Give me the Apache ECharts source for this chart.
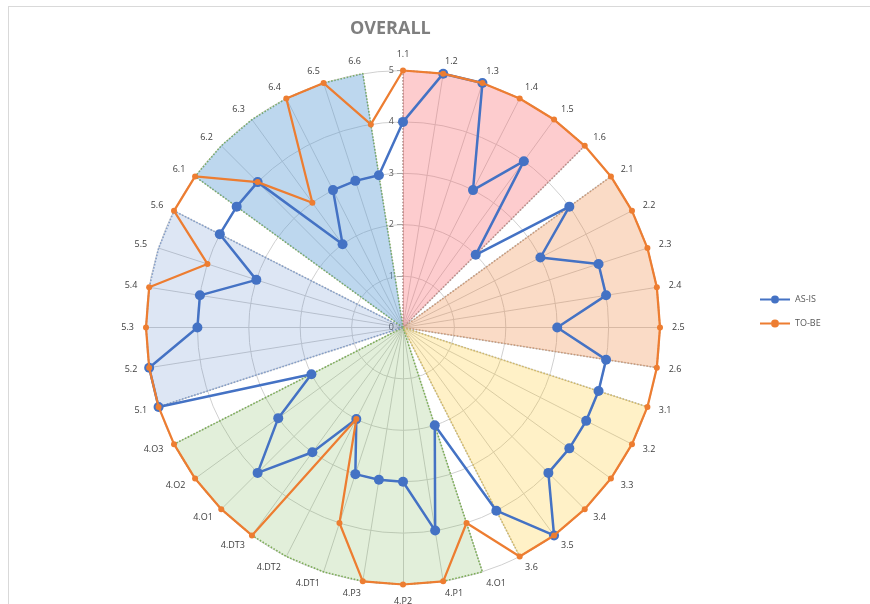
<!DOCTYPE html>
<html>
<head>
<meta charset="utf-8">
<title>OVERALL</title>
<script src="https://cdn.jsdelivr.net/npm/echarts@6/dist/echarts.min.js"></script>
<style>
  html, body { margin: 0; padding: 0; background: #ffffff; }
  #frame { position: absolute; left: 8px; top: 6px; right: 0; bottom: 0;
           border-left: 1px solid #d9d9d9; border-top: 1px solid #d9d9d9; }
  #chart { position: absolute; left: 0; top: 0; width: 870px; height: 604px; }
</style>
</head>
<body>
<div id="frame"></div>
<div id="chart"></div>
<script>
// Assessment items, listed clockwise from the top
const categories = [
  '1.1', '1.2', '1.3', '1.4', '1.5', '1.6',
  '2.1', '2.2', '2.3', '2.4', '2.5', '2.6',
  '3.1', '3.2', '3.3', '3.4', '3.5', '3.6',
  '4.O1', '4.P1', '4.P2', '4.P3', '4.DT1', '4.DT2', '4.DT3', '4.O1', '4.O2', '4.O3',
  '5.1', '5.2', '5.3', '5.4', '5.5', '5.6',
  '6.1', '6.2', '6.3', '6.4', '6.5', '6.6'
];

// Current maturity scores
const asIs = [
  4, 5, 5, 3, 4, 2,
  4, 3, 4, 4, 3, 4,
  4, 4, 4, 4, 5, 4,
  2, 4, 3, 3, 3, 2, 3, 4, 3, 2,
  5, 5, 4, 4, 3, 4,
  4, 4, 2, 3, 3, 3
];

// Target maturity scores
const toBe = [
  5, 5, 5, 5, 5, 5,
  5, 5, 5, 5, 5, 5,
  5, 5, 5, 5, 5, 5,
  4, 5, 5, 5, 4, 2, 5, 5, 5, 5,
  5, 5, 5, 5, 4, 5,
  5, 4, 3, 5, 5, 4
];

// Domain groups (first digit of the item code) and their sector styles
const groups = ['1', '2', '3', '4', '5', '6'];
const groupFill = [
  'rgba(248,100,105,0.33)',
  'rgba(237,125,49,0.28)',
  'rgba(255,192,0,0.22)',
  'rgba(112,173,71,0.2)',
  'rgba(68,114,196,0.18)',
  'rgba(91,155,213,0.4)'
];
const groupBorder = ['#b09a94', '#c0a08a', '#c9b87a', '#7fae5a', '#8ea4c8', '#7fae5a'];

const scaleMax = 5;

// ECharts lays radar indicators out counter-clockwise; reverse all but the first
// so the items read clockwise from the top.
const cw = arr => [arr[0]].concat(arr.slice(1).reverse());

const sectorSeries = groups.map((g, i) => ({
  type: 'radar',
  name: 'Group ' + g,
  silent: true,
  symbol: 'none',
  z: 1,
  lineStyle: { color: groupBorder[i], width: 1.6, type: 'dotted' },
  areaStyle: { color: groupFill[i], opacity: 1 },
  data: [{ value: cw(categories.map(c => (c.split('.')[0] === g ? scaleMax : 0))) }]
}));

const chart = echarts.init(document.getElementById('chart'), null, { renderer: 'canvas' });

const fontFamily = '"Open Sans", "Liberation Sans", sans-serif';
const legendIcon = 'path://M0,3.1H11V4.9H0Z M19,3.1H30V4.9H19Z M11,4A4,4,0,1,0,19,4A4,4,0,1,0,11,4Z';

chart.setOption({
  animation: false,
  textStyle: { fontFamily: fontFamily },
  title: {
    text: 'OVERALL',
    left: 345,
    top: 15,
    textStyle: { color: '#7f7f7f', fontSize: 18, fontWeight: 'bold', fontFamily: fontFamily }
  },
  legend: {
    orient: 'vertical',
    left: 755,
    top: 290,
    itemGap: 15,
    itemWidth: 30,
    itemHeight: 8,
    textStyle: { color: '#595959', fontSize: 9 },
    data: [
      { name: 'AS-IS', icon: legendIcon },
      { name: 'TO-BE', icon: legendIcon }
    ]
  },
  radar: {
    center: [403, 327.5],
    radius: 257,
    startAngle: 90,
    shape: 'circle',
    splitNumber: 5,
    indicator: cw(categories).map(name => ({ name: name, min: 0, max: scaleMax })),
    axisName: { color: '#404040', fontSize: 9 },
    nameGap: 12,
    axisLine: { lineStyle: { color: '#d0d0d0', width: 1 } },
    splitLine: { lineStyle: { color: '#d0d0d0', width: 1 } },
    splitArea: { show: false }
  },
  // Polar overlay that carries the 0–5 scale labels up the first axis
  polar: { center: [403, 327.5], radius: 257 },
  angleAxis: { type: 'value', min: 0, max: 360, startAngle: 90, show: false },
  radiusAxis: {
    min: 0,
    max: scaleMax,
    interval: 1,
    axisLine: { show: false },
    axisTick: { show: true, length: 6, lineStyle: { color: '#a6a6a6' } },
    axisLabel: { color: '#595959', fontSize: 9, margin: 9 },
    splitLine: { show: false }
  },
  series: sectorSeries.concat([
    {
      type: 'scatter',
      coordinateSystem: 'polar',
      silent: true,
      data: []
    },
    {
      type: 'radar',
      name: 'AS-IS',
      z: 3,
      symbol: 'circle',
      symbolSize: 10,
      itemStyle: { color: '#4472c4' },
      lineStyle: { color: '#4472c4', width: 2.5 },
      data: [{ name: 'AS-IS', value: cw(asIs) }]
    },
    {
      type: 'radar',
      name: 'TO-BE',
      z: 4,
      symbol: 'circle',
      symbolSize: 6,
      itemStyle: { color: '#ed7d31' },
      lineStyle: { color: '#ed7d31', width: 2.25 },
      data: [{ name: 'TO-BE', value: cw(toBe) }]
    }
  ])
});
</script>
</body>
</html>
